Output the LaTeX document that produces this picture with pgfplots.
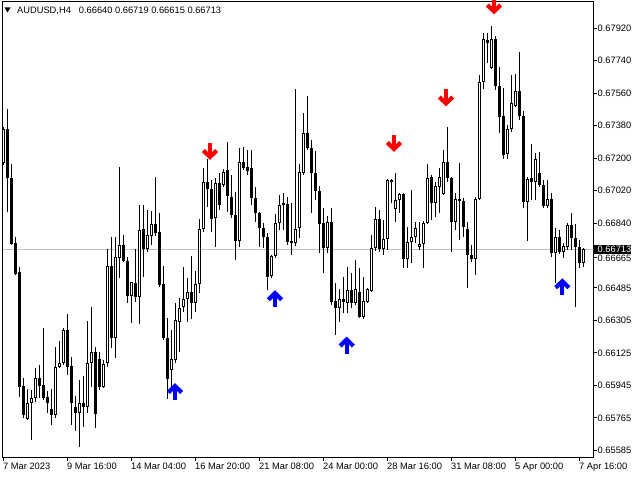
\documentclass[border=0pt]{standalone}
\usepackage{fontspec}
\setmainfont{Liberation Sans}
\usepackage{pgfplots}
\usepackage{pgfplotstable}
\pgfplotsset{compat=1.18}

\pgfplotstableread{
k O H L C
0 0.67191 0.67390 0.67179 0.67379
1 0.67379 0.67489 0.66919 0.67108
2 0.67108 0.67185 0.66737 0.66742
3 0.66748 0.66781 0.66571 0.66576
4 0.66587 0.66615 0.65896 0.65951
5 0.65957 0.66001 0.65780 0.65796
6 0.65774 0.65940 0.65769 0.65863
7 0.65863 0.65935 0.65658 0.65890
8 0.65890 0.66056 0.65868 0.66001
9 0.66001 0.66073 0.65890 0.65957
10 0.65962 0.66278 0.65879 0.65890
11 0.65896 0.65929 0.65807 0.65863
12 0.65829 0.65940 0.65741 0.65796
13 0.65796 0.66173 0.65780 0.66062
14 0.66062 0.66206 0.66056 0.66084
15 0.66084 0.66278 0.66073 0.66267
16 0.66267 0.66355 0.66018 0.66062
17 0.66067 0.66117 0.65741 0.65863
18 0.65841 0.65901 0.65708 0.65807
19 0.65807 0.65990 0.65619 0.65863
20 0.65863 0.66012 0.65730 0.65841
21 0.65841 0.66316 0.65807 0.66084
22 0.66084 0.66394 0.65951 0.66145
23 0.66145 0.66173 0.65724 0.65802
24 0.66106 0.66145 0.65935 0.65951
25 0.65951 0.66101 0.65946 0.66078
26 0.66084 0.66715 0.66062 0.66621
27 0.66621 0.66781 0.66167 0.66222
28 0.66222 0.66781 0.66112 0.66671
29 0.66665 0.67168 0.66554 0.66737
30 0.66737 0.66792 0.66643 0.66648
31 0.66648 0.66671 0.66416 0.66455
32 0.66455 0.66532 0.66305 0.66532
33 0.66527 0.66715 0.66421 0.66449
34 0.66449 0.66958 0.66300 0.66820
35 0.66825 0.66958 0.66560 0.66715
36 0.66715 0.66931 0.66698 0.66792
37 0.66787 0.66925 0.66737 0.66853
38 0.66853 0.67113 0.66787 0.66803
39 0.66809 0.66914 0.66505 0.66516
40 0.66521 0.66621 0.66211 0.66222
41 0.66222 0.66333 0.65885 0.65995
42 0.66045 0.66267 0.65951 0.66106
43 0.66101 0.66416 0.66084 0.66322
44 0.66311 0.66444 0.66145 0.66388
45 0.66394 0.66615 0.66366 0.66438
46 0.66438 0.66554 0.66311 0.66477
47 0.66477 0.66676 0.66327 0.66416
48 0.66416 0.66593 0.66366 0.66521
49 0.66521 0.66881 0.66471 0.66825
50 0.66825 0.67163 0.66809 0.67085
51 0.67085 0.67213 0.66947 0.67047
52 0.67047 0.67097 0.66809 0.66881
53 0.66886 0.67108 0.66726 0.67080
54 0.67080 0.67135 0.66931 0.66958
55 0.67069 0.67157 0.67058 0.67141
56 0.67152 0.67307 0.66919 0.67008
57 0.67002 0.67124 0.66886 0.66903
58 0.66903 0.67030 0.66654 0.66759
59 0.66759 0.67274 0.66726 0.67196
60 0.67196 0.67279 0.67152 0.67163
61 0.67168 0.67263 0.67124 0.67146
62 0.67163 0.67263 0.66958 0.66997
63 0.66997 0.67058 0.66864 0.66914
64 0.66914 0.66919 0.66726 0.66831
65 0.66831 0.66859 0.66720 0.66781
66 0.66781 0.66803 0.66488 0.66560
67 0.66565 0.66682 0.66554 0.66676
68 0.66676 0.66908 0.66665 0.66859
69 0.66859 0.67013 0.66820 0.66958
70 0.66958 0.67025 0.66820 0.66969
71 0.66964 0.67002 0.66737 0.66753
72 0.66759 0.66969 0.66682 0.66748
73 0.66748 0.67600 0.66731 0.66825
74 0.66831 0.67185 0.66776 0.67141
75 0.67135 0.67467 0.67124 0.67357
76 0.67357 0.67561 0.67263 0.67274
77 0.67274 0.67318 0.66914 0.67135
78 0.67135 0.67257 0.66986 0.67036
79 0.67036 0.67063 0.66693 0.66853
80 0.66859 0.66942 0.66582 0.66720
81 0.66720 0.66897 0.66693 0.66864
82 0.66864 0.66942 0.66405 0.66421
83 0.66427 0.66527 0.66239 0.66388
84 0.66388 0.66493 0.66311 0.66438
85 0.66438 0.66560 0.66361 0.66421
86 0.66416 0.66615 0.66361 0.66488
87 0.66488 0.66582 0.66388 0.66416
88 0.66416 0.66654 0.66405 0.66493
89 0.66477 0.66610 0.66333 0.66338
90 0.66338 0.66560 0.66327 0.66427
91 0.66421 0.66499 0.66416 0.66493
92 0.66482 0.66792 0.66477 0.66720
93 0.66720 0.66947 0.66704 0.66881
94 0.66881 0.66931 0.66698 0.66715
95 0.66715 0.66875 0.66682 0.66770
96 0.66770 0.67102 0.66709 0.67097
97 0.67096 0.67102 0.66969 0.67085
98 0.66936 0.67135 0.66864 0.66986
99 0.66986 0.67025 0.66914 0.67019
100 0.67019 0.67025 0.66610 0.66659
101 0.66659 0.66836 0.66610 0.66753
102 0.66753 0.67041 0.66637 0.66781
103 0.66781 0.66864 0.66748 0.66831
104 0.66726 0.66864 0.66709 0.66742
105 0.66742 0.66870 0.66610 0.66859
106 0.66859 0.67185 0.66853 0.67108
107 0.67113 0.67124 0.66875 0.66969
108 0.66969 0.67085 0.66892 0.67063
109 0.67058 0.67163 0.66914 0.67113
110 0.67019 0.67263 0.67013 0.67196
111 0.67196 0.67390 0.67085 0.67108
112 0.67108 0.67113 0.66698 0.66864
113 0.66864 0.67025 0.66820 0.66991
114 0.66991 0.67191 0.66765 0.66980
115 0.66980 0.66997 0.66781 0.66836
116 0.66825 0.66864 0.66499 0.66682
117 0.66682 0.66737 0.66643 0.66659
118 0.66659 0.67002 0.66571 0.66991
119 0.66991 0.67677 0.66986 0.67639
120 0.67639 0.67910 0.67600 0.67877
121 0.67871 0.67910 0.67744 0.67854
122 0.67716 0.67948 0.67711 0.67877
123 0.67877 0.67893 0.67594 0.67617
124 0.67617 0.67722 0.67357 0.67445
125 0.67451 0.67606 0.67213 0.67235
126 0.67240 0.67401 0.67213 0.67379
127 0.67379 0.67677 0.67362 0.67523
128 0.67506 0.67683 0.67500 0.67589
129 0.67589 0.67805 0.67428 0.67451
130 0.67451 0.67478 0.66942 0.66975
131 0.66975 0.67113 0.66759 0.67102
132 0.67108 0.67296 0.66986 0.67085
133 0.67085 0.67246 0.66986 0.67213
134 0.67135 0.67251 0.67058 0.67069
135 0.67069 0.67097 0.66942 0.66953
136 0.66953 0.67097 0.66942 0.66991
137 0.66991 0.67025 0.66671 0.66693
138 0.66693 0.66831 0.66527 0.66781
139 0.66781 0.66820 0.66687 0.66698
140 0.66698 0.66748 0.66665 0.66731
141 0.66726 0.66859 0.66709 0.66847
142 0.66847 0.66914 0.66709 0.66776
143 0.66776 0.66853 0.66394 0.66726
144 0.66726 0.66765 0.66610 0.66637
145 0.66640 0.66719 0.66615 0.66713
}\candles

\pgfdeclareplotmark{dnarrow}{%
  \pgfsetlinewidth{4.2bp}\pgfsetbuttcap\pgfsetmiterjoin
  \pgfpathmoveto{\pgfqpoint{0bp}{8.5bp}}\pgfpathlineto{\pgfqpoint{0bp}{-4.5bp}}\pgfusepathqstroke
  \pgfpathmoveto{\pgfqpoint{-6.6bp}{1.0bp}}\pgfpathlineto{\pgfqpoint{0bp}{-5.5bp}}\pgfpathlineto{\pgfqpoint{6.6bp}{1.0bp}}\pgfusepathqstroke
}
\pgfdeclareplotmark{uparrow}{%
  \pgfsetlinewidth{4.2bp}\pgfsetbuttcap\pgfsetmiterjoin
  \pgfpathmoveto{\pgfqpoint{0bp}{-8.5bp}}\pgfpathlineto{\pgfqpoint{0bp}{4.5bp}}\pgfusepathqstroke
  \pgfpathmoveto{\pgfqpoint{-6.6bp}{-1.0bp}}\pgfpathlineto{\pgfqpoint{0bp}{5.5bp}}\pgfpathlineto{\pgfqpoint{6.6bp}{-1.0bp}}\pgfusepathqstroke
}

\definecolor{mtred}{RGB}{255,0,0}
\definecolor{mtblue}{RGB}{0,0,255}
\definecolor{bidgray}{RGB}{192,192,192}

\begin{document}
\begin{tikzpicture}
\useasboundingbox (0,0) rectangle (640bp,480bp);
\fill[white] (0,0) rectangle (640bp,480bp);
\begin{axis}[
  at={(2.5bp,22.5bp)}, anchor=south west,
  scale only axis, width=591bp, height=456bp,
  xmin=-0.25, xmax=147.5,
  ymin=0.655611, ymax=0.680841,
  axis line style={line width=1bp, black},
  tick align=outside,
  major tick length=3.5bp,
  every tick/.style={black, line width=1bp},
  xtick pos=left, ytick pos=right,
  yticklabel pos=right,
  xtick={0,16,32,48,64,80,96,112,128,144},
  xticklabels={7 Mar 2023,9 Mar 16:00,14 Mar 04:00,16 Mar 20:00,21 Mar 08:00,24 Mar 00:00,28 Mar 16:00,31 Mar 08:00,5 Apr 00:00,7 Apr 16:00},
  ytick={0.679358,0.677562,0.675766,0.673970,0.672174,0.670378,0.668582,0.666650,0.664990,0.663194,0.661398,0.659602,0.657806,0.656010},
  yticklabels={0.67920,0.67740,0.67560,0.67380,0.67200,0.67020,0.66840,0.66665,0.66485,0.66305,0.66125,0.65945,0.65765,0.65585},
  ticklabel style={font=\fontsize{9.3bp}{10bp}\selectfont, inner sep=0pt},
  xticklabel style={anchor=north west, xshift=-0.5bp, yshift=-1.5bp},
  yticklabel style={anchor=west, xshift=0.5bp},
  clip=true,
]
\addplot[bidgray, line width=1bp, forget plot] coordinates {(-0.25,0.66713) (147.5,0.66713)};
% wicks
\addplot[draw=none, mark=none,
  error bars/.cd, y dir=plus, y explicit, error mark=none,
  error bar style={line width=1bp, draw=black, solid}]
  table[x=k, y=L, y error plus expr={\thisrow{H}-\thisrow{L}}] {\candles};
% bodies
\addplot[draw=none, mark=none,
  error bars/.cd, y dir=plus, y explicit, error mark=none,
  error bar style={line width=3bp, draw=black, solid}]
  table[x=k, y expr={min(\thisrow{O},\thisrow{C})}, y error plus expr={abs(\thisrow{C}-\thisrow{O})}] {\candles};
% white interiors of bullish bodies
\addplot[draw=none, mark=none,
  restrict expr to domain={\thisrow{C}-\thisrow{O}}{0.00012:1},
  error bars/.cd, y dir=plus, y explicit, error mark=none,
  error bar style={line width=1bp, draw=white, solid}]
  table[x=k, y expr={\thisrow{O}+0.0000553}, y error plus expr={\thisrow{C}-\thisrow{O}-0.0001107}] {\candles};
% signal arrows
\addplot[mtred, only marks, mark=dnarrow] coordinates {
  (51.625,0.672542) (97.625,0.672984) (110.625,0.675502) (122.625,0.680592)};
\addplot[mtblue, only marks, mark=uparrow] coordinates {
  (42.875,0.659262) (67.875,0.664397) (85.8,0.661835) (139.7,0.665061)};
\coordinate (bid) at (axis cs:147.5,0.66713);
\end{axis}
\node[anchor=west, fill=black, text=white, inner sep=0pt, minimum height=8.6bp,
  font=\fontsize{9.3bp}{10bp}\selectfont] at ([xshift=0.5bp]bid) {\hspace{3.5bp}0.66713\hspace{6.9bp}};
\fill[black] (4.5bp,472.5bp) -- (10.5bp,472.5bp) -- (7.5bp,467.5bp) -- cycle;
\node[anchor=base west, inner sep=0pt, font=\fontsize{9.3bp}{10bp}\selectfont] at (17bp,466.3bp)
  {AUDUSD,H4\hspace{8bp}0.66640 0.66719 0.66615 0.66713};
\end{tikzpicture}
\end{document}
